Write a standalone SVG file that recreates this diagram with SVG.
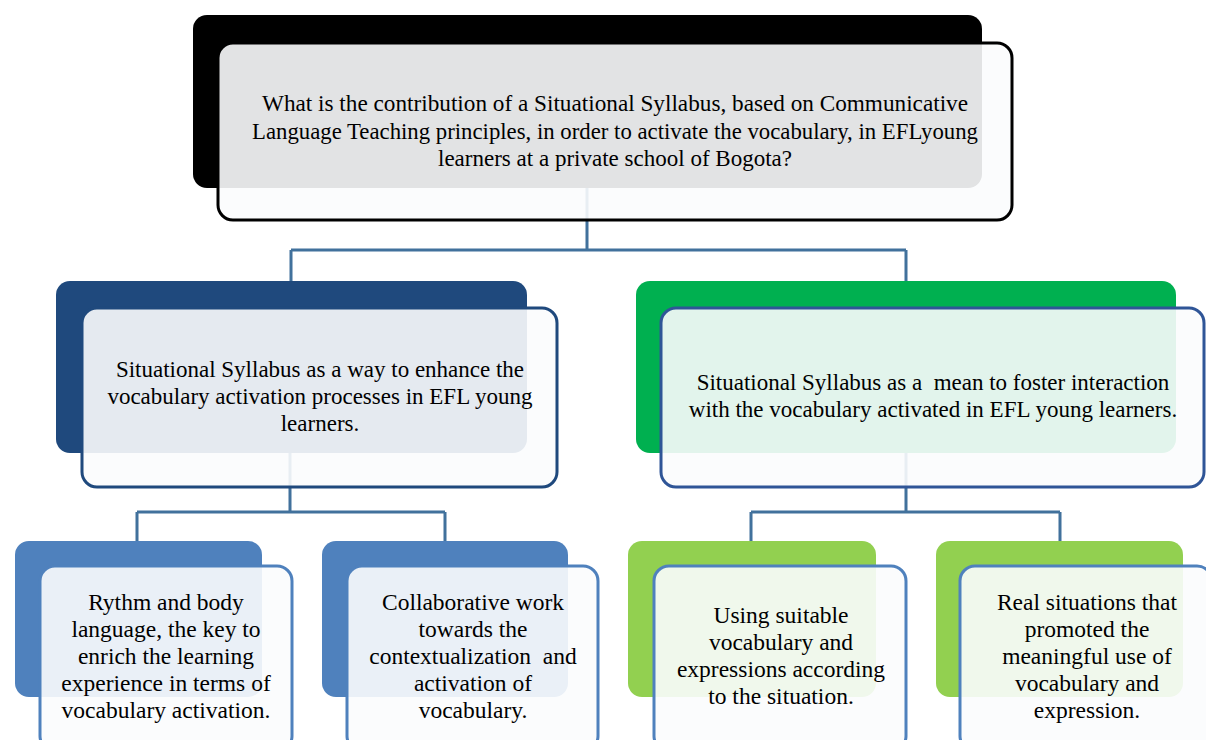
<svg xmlns="http://www.w3.org/2000/svg" width="1206" height="740" viewBox="0 0 1206 740">
<style>
.front{fill:#fbfcfd;fill-opacity:0.9;stroke-width:3}
.conn{fill:none;stroke:#41719c;stroke-width:3}
.mid{font-size:23px}
.low{font-size:23.5px}
</style>
<rect width="1206" height="740" fill="#ffffff"/>
<g id="backs">
<rect x="193" y="15" width="789" height="173" rx="14" fill="#000000"/>
<rect x="56" y="281" width="471" height="172" rx="14" fill="#1f497d"/>
<rect x="636" y="281" width="540" height="172" rx="14" fill="#00b050"/>
<rect x="15" y="541" width="247" height="156" rx="14" fill="#4f81bd"/>
<rect x="322" y="541" width="246" height="156" rx="14" fill="#4f81bd"/>
<rect x="628" y="541" width="248" height="156" rx="14" fill="#92d050"/>
<rect x="936" y="541" width="247" height="156" rx="14" fill="#92d050"/>
</g>
<g id="connectors">
<path class="conn" d="M587 188 V250 M291 250 H906 M291 250 V281 M906 250 V281"/>
<path class="conn" d="M290 453 V512 M137 512 H445 M137 512 V541 M445 512 V541"/>
<path class="conn" d="M906 453 V512 M751 512 H1060 M751 512 V541 M1060 512 V541"/>
</g>
<g font-family="Liberation Serif, Times New Roman, serif" font-size="23" fill="#000000" text-anchor="middle">
<g id="node-root">
<rect class="front" x="218" y="43" width="794" height="177" rx="15" stroke="#000000"/>
<text x="615" y="111" textLength="706" lengthAdjust="spacingAndGlyphs">What is the contribution of a Situational Syllabus, based on Communicative</text>
<text x="615" y="139" textLength="726" lengthAdjust="spacingAndGlyphs">Language Teaching principles, in order to activate the vocabulary, in EFLyoung</text>
<text x="615" y="166" textLength="354" lengthAdjust="spacingAndGlyphs">learners at a private school of Bogota?</text>
</g>
<g id="node-left" class="mid">
<rect class="front" x="82" y="308" width="475" height="179" rx="15" stroke="#1f497d"/>
<text x="320" y="377">Situational Syllabus as a way to enhance the</text>
<text x="320" y="404">vocabulary activation processes in EFL young</text>
<text x="320" y="431">learners.</text>
</g>
<g id="node-right" class="mid">
<rect class="front" x="661" y="308" width="543" height="179" rx="15" stroke="#2f5597"/>
<text x="933" y="390" xml:space="preserve">Situational Syllabus as a  mean to foster interaction</text>
<text x="933" y="417">with the vocabulary activated in EFL young learners.</text>
</g>
<g id="node-b1" class="low">
<rect class="front" x="40" y="566" width="252" height="185" rx="15" stroke="#4f81bd"/>
<text x="166" y="610">Rythm and body</text>
<text x="166" y="637">language, the key to</text>
<text x="166" y="664">enrich the learning</text>
<text x="166" y="691">experience in terms of</text>
<text x="166" y="718">vocabulary activation.</text>
</g>
<g id="node-b2" class="low">
<rect class="front" x="347" y="566" width="251" height="185" rx="15" stroke="#4f81bd"/>
<text x="473" y="610">Collaborative work</text>
<text x="473" y="637">towards the</text>
<text x="473" y="664" xml:space="preserve">contextualization  and</text>
<text x="473" y="691">activation of</text>
<text x="473" y="718">vocabulary.</text>
</g>
<g id="node-b3" class="low">
<rect class="front" x="654" y="566" width="252" height="185" rx="15" stroke="#4f81bd"/>
<text x="781" y="623">Using suitable</text>
<text x="781" y="650">vocabulary and</text>
<text x="781" y="677">expressions according</text>
<text x="781" y="704">to the situation.</text>
</g>
<g id="node-b4" class="low">
<rect class="front" x="960" y="566" width="252" height="185" rx="15" stroke="#4f81bd"/>
<text x="1087" y="610">Real situations that</text>
<text x="1087" y="637">promoted the</text>
<text x="1087" y="664">meaningful use of</text>
<text x="1087" y="691">vocabulary and</text>
<text x="1087" y="718">expression.</text>
</g>
</g>
</svg>
